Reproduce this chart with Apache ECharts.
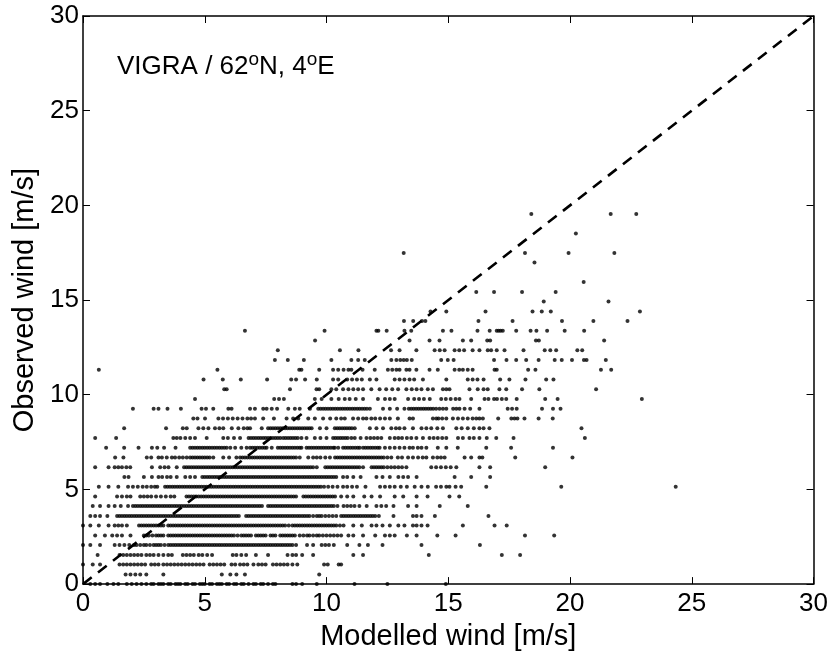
<!DOCTYPE html>
<html><head><meta charset="utf-8">
<script src="https://cdn.jsdelivr.net/npm/echarts@6/dist/echarts.min.js"></script>
<style>html,body{margin:0;padding:0;background:#fff}#c{width:831px;height:656px}</style>
</head><body><div id="c"></div>
<script>
// Observed wind levels (m/s), quantised in the record
const obsLevels = [0.00, 0.51, 1.03, 1.54, 2.06, 2.57, 3.09, 3.60, 4.12, 4.63, 5.14, 5.66, 6.17, 6.69, 7.20, 7.72, 8.23, 8.75, 9.26, 9.77, 10.29, 10.80, 11.32, 11.83, 12.35, 12.86, 13.38, 13.89, 14.40, 14.92, 15.43, 15.95, 16.98, 17.49, 18.52, 19.55];

// Modelled wind values (m/s) read along each observed level
const r000 = [0.3, 0.5, 0.7, 1.0, 1.25, 1.45, 1.8, 2.0, 2.2, 2.4, 2.6, 2.8, 2.9, 3.1, 3.2, 3.3, 3.5, 3.6, 3.8, 3.9, 4.0, 4.2, 4.3, 4.5, 4.6, 4.8, 4.9, 5.0, 5.2, 5.3, 5.5, 5.6, 5.7, 5.9, 6.0, 6.2, 6.3, 6.5, 6.6, 6.8, 7.0, 7.1, 7.3, 7.4, 7.6, 7.8, 7.9, 8.6, 8.75, 9.0, 9.6, 11.15, 12.5, 14.9];
const r051 = [1.75, 1.95, 2.15, 2.35, 2.6, 3.3, 5.7, 6.05, 6.3, 6.65, 9.7];
const r103 = [0.0, 0.4, 0.7, 1.5, 1.65, 1.8, 1.95, 2.1, 2.25, 2.4, 2.55, 2.8, 2.95, 3.1, 3.3, 3.45, 3.6, 3.75, 3.9, 4.05, 4.2, 4.35, 4.5, 4.65, 4.8, 4.95, 5.2, 5.35, 5.5, 5.65, 5.8, 6.1, 6.25, 6.45, 6.6, 6.75, 7.0, 7.2, 7.35, 7.5, 7.8, 7.95, 8.1, 8.25, 8.4, 8.6, 8.8, 9.9, 10.05, 10.5, 10.6];
const r154 = [0.6, 1.5, 1.65, 1.8, 1.95, 2.1, 2.25, 2.4, 2.6, 2.75, 2.9, 3.1, 3.3, 3.5, 3.65, 4.1, 4.25, 4.4, 4.55, 4.75, 4.9, 5.1, 5.3, 6.15, 6.3, 6.5, 6.7, 7.1, 7.6, 8.4, 8.6, 8.75, 9.0, 9.45, 11.1, 11.5, 14.2, 17.2, 17.95];
const r206 = [0.0, 0.3, 0.7, 1.3, 1.5, 1.7, 1.9, 2.1, 2.2, 2.35, 2.5, 2.6, 2.75, 2.9, 3.0, 3.1, 3.2, 3.35, 3.5, 3.6, 3.7, 3.8, 3.9, 4.0, 4.1, 4.2, 4.3, 4.4, 4.5, 4.6, 4.7, 4.8, 4.9, 5.0, 5.1, 5.2, 5.3, 5.4, 5.5, 5.6, 5.7, 5.8, 5.9, 6.0, 6.1, 6.2, 6.3, 6.4, 6.5, 6.6, 6.7, 6.8, 6.9, 7.0, 7.1, 7.2, 7.3, 7.4, 7.5, 7.6, 7.7, 7.8, 7.9, 8.0, 8.1, 8.2, 8.3, 8.4, 8.5, 8.6, 8.75, 9.2, 9.45, 9.8, 9.95, 10.1, 10.3, 10.85, 11.35, 11.7, 12.3, 13.9, 16.3];
const r257 = [0.5, 0.9, 1.2, 1.4, 1.6, 1.95, 2.5, 2.6, 2.7, 2.85, 3.0, 3.1, 3.2, 3.3, 3.5, 3.6, 3.7, 3.8, 3.9, 4.0, 4.1, 4.2, 4.3, 4.4, 4.5, 4.6, 4.7, 4.8, 4.9, 5.0, 5.1, 5.2, 5.3, 5.4, 5.5, 5.6, 5.7, 5.8, 5.9, 6.0, 6.1, 6.2, 6.35, 6.5, 6.6, 6.7, 6.8, 6.9, 7.1, 7.2, 7.3, 7.4, 7.5, 7.7, 7.8, 7.9, 8.1, 8.2, 8.3, 8.4, 8.5, 8.6, 8.7, 8.9, 9.05, 9.2, 9.3, 9.45, 9.6, 9.7, 9.85, 10.0, 10.15, 10.3, 10.45, 10.6, 10.9, 11.1, 11.5, 12.0, 12.4, 12.6, 12.8, 13.3, 13.7, 14.55, 15.3, 18.15, 19.35];
const r309 = [0.0, 0.3, 0.65, 1.05, 1.3, 1.45, 1.6, 1.8, 2.3, 2.4, 2.5, 2.6, 2.7, 2.8, 2.9, 3.0, 3.1, 3.2, 3.3, 3.5, 3.6, 3.7, 3.8, 3.9, 4.0, 4.1, 4.2, 4.3, 4.4, 4.5, 4.6, 4.7, 4.8, 4.9, 5.0, 5.1, 5.2, 5.3, 5.4, 5.5, 5.6, 5.7, 5.8, 5.9, 6.0, 6.1, 6.2, 6.3, 6.4, 6.5, 6.6, 6.7, 6.8, 6.9, 7.0, 7.1, 7.2, 7.3, 7.4, 7.5, 7.6, 7.7, 7.8, 7.9, 8.0, 8.1, 8.2, 8.3, 8.45, 8.6, 8.7, 8.8, 8.9, 9.0, 9.1, 9.2, 9.3, 9.4, 9.5, 9.6, 9.7, 9.8, 9.9, 10.0, 10.1, 10.2, 10.3, 10.4, 10.55, 10.7, 11.1, 11.45, 11.85, 12.05, 12.3, 12.6, 12.95, 13.2, 13.55, 13.7, 13.9, 14.15, 15.6, 16.9, 17.4];
const r360 = [0.3, 0.5, 0.7, 1.0, 1.4, 1.5, 1.6, 1.7, 1.8, 1.9, 2.0, 2.1, 2.2, 2.3, 2.4, 2.5, 2.6, 2.7, 2.8, 2.9, 3.0, 3.1, 3.2, 3.3, 3.4, 3.5, 3.6, 3.7, 3.8, 3.9, 4.0, 4.1, 4.2, 4.3, 4.4, 4.5, 4.6, 4.7, 4.8, 4.9, 5.0, 5.1, 5.2, 5.3, 5.4, 5.5, 5.6, 5.7, 5.8, 5.9, 6.0, 6.1, 6.2, 6.3, 6.4, 6.7, 6.8, 6.9, 7.0, 7.1, 7.2, 7.3, 7.4, 7.5, 7.6, 7.7, 7.8, 7.9, 8.0, 8.1, 8.2, 8.3, 8.4, 8.5, 8.6, 8.7, 8.8, 8.9, 9.0, 9.1, 9.2, 9.3, 9.45, 9.6, 9.7, 9.8, 9.95, 10.1, 10.25, 10.4, 10.6, 10.7, 10.8, 10.9, 11.0, 11.1, 11.2, 11.3, 11.4, 11.5, 11.6, 11.7, 11.8, 11.9, 12.0, 12.15, 12.75, 13.55, 13.7, 13.9, 14.45, 16.65];
const r412 = [0.4, 0.7, 1.05, 1.3, 1.55, 1.85, 2.05, 2.15, 2.25, 2.35, 2.45, 2.55, 2.65, 2.75, 2.85, 2.95, 3.05, 3.15, 3.25, 3.35, 3.45, 3.55, 3.65, 3.75, 3.85, 3.95, 4.05, 4.15, 4.25, 4.35, 4.45, 4.55, 4.65, 4.75, 4.85, 4.95, 5.05, 5.15, 5.25, 5.35, 5.45, 5.55, 5.65, 5.75, 5.85, 5.95, 6.05, 6.15, 6.25, 6.35, 6.45, 6.55, 6.65, 6.75, 6.85, 6.95, 7.05, 7.15, 7.25, 7.35, 7.6, 7.7, 7.8, 7.9, 8.0, 8.1, 8.2, 8.3, 8.4, 8.5, 8.6, 8.7, 8.8, 8.9, 9.0, 9.1, 9.2, 9.3, 9.4, 9.5, 9.6, 9.7, 9.8, 9.9, 10.0, 10.1, 10.2, 10.3, 10.45, 10.7, 10.85, 11.0, 11.15, 11.35, 11.65, 12.05, 12.25, 12.45, 12.75, 13.35, 13.7, 14.65, 15.8];
const r463 = [0.5, 1.4, 1.6, 1.8, 1.95, 2.35, 2.5, 2.65, 2.8, 3.0, 3.2, 3.4, 3.6, 3.75, 4.25, 4.35, 4.45, 4.55, 4.65, 4.75, 4.85, 4.95, 5.05, 5.15, 5.25, 5.35, 5.45, 5.55, 5.65, 5.75, 5.85, 5.95, 6.05, 6.15, 6.25, 6.35, 6.45, 6.55, 6.65, 6.75, 6.85, 6.95, 7.05, 7.15, 7.25, 7.35, 7.45, 7.55, 7.65, 7.75, 7.85, 7.95, 8.05, 8.15, 8.25, 8.35, 8.45, 8.55, 8.65, 8.75, 9.05, 9.15, 9.25, 9.35, 9.45, 9.55, 9.65, 9.75, 9.85, 9.95, 10.05, 10.15, 10.25, 10.35, 10.6, 10.85, 11.1, 11.55, 11.85, 12.2, 12.8, 13.15, 13.7, 14.15, 15.05, 15.45];
const r514 = [0.65, 1.05, 1.45, 1.85, 2.05, 2.25, 2.45, 2.62, 2.8, 2.95, 3.05, 3.37, 3.47, 3.57, 3.67, 3.77, 3.87, 3.97, 4.07, 4.17, 4.27, 4.37, 4.47, 4.57, 4.67, 4.77, 4.87, 4.97, 5.07, 5.17, 5.27, 5.37, 5.47, 5.57, 5.67, 5.77, 5.87, 5.97, 6.07, 6.17, 6.27, 6.37, 6.47, 6.57, 6.67, 6.77, 6.87, 6.97, 7.07, 7.17, 7.27, 7.37, 7.47, 7.57, 7.67, 7.77, 7.87, 7.97, 8.07, 8.17, 8.27, 8.37, 8.47, 8.57, 8.67, 8.77, 8.87, 8.97, 9.07, 9.17, 9.27, 9.37, 9.47, 9.57, 9.67, 9.77, 9.9, 10.07, 10.25, 10.45, 10.68, 10.85, 11.05, 11.25, 11.6, 12.2, 12.4, 12.6, 12.8, 13.05, 13.3, 13.62, 13.9, 14.16, 14.5, 14.7, 14.92, 15.05, 15.3, 15.53, 16.56, 19.64, 24.34];
const r566 = [1.7, 1.87, 2.5, 2.83, 3.1, 3.25, 3.45, 3.6, 3.85, 4.2, 4.4, 4.6, 4.9, 5.0, 5.1, 5.2, 5.3, 5.4, 5.5, 5.6, 5.7, 5.8, 5.9, 6.0, 6.1, 6.2, 6.3, 6.4, 6.5, 6.6, 6.7, 6.8, 6.9, 7.0, 7.1, 7.2, 7.3, 7.4, 7.5, 7.6, 7.7, 7.8, 7.9, 8.0, 8.1, 8.2, 8.3, 8.4, 8.5, 8.6, 8.7, 8.8, 8.9, 9.0, 9.1, 9.2, 9.3, 9.4, 9.5, 9.6, 9.7, 9.8, 9.9, 10.0, 10.1, 10.2, 10.3, 10.4, 10.68, 10.85, 11.1, 11.4, 12.05, 12.3, 12.6, 12.95, 13.15, 13.35, 13.7, 15.26, 15.94, 16.72];
const r617 = [0.5, 1.05, 1.3, 1.45, 1.6, 1.78, 1.94, 2.83, 3.17, 3.35, 3.51, 3.85, 4.15, 4.25, 4.35, 4.45, 4.55, 4.65, 4.75, 4.85, 4.95, 5.05, 5.15, 5.25, 5.35, 5.45, 5.55, 5.65, 5.75, 5.85, 5.95, 6.05, 6.15, 6.25, 6.35, 6.45, 6.55, 6.65, 6.75, 6.85, 6.95, 7.05, 7.15, 7.25, 7.35, 7.45, 7.55, 7.65, 7.75, 7.85, 7.95, 8.05, 8.15, 8.25, 8.35, 8.45, 8.55, 8.65, 8.75, 8.85, 8.95, 9.05, 9.15, 9.25, 9.35, 9.45, 9.6, 9.95, 10.05, 10.15, 10.25, 10.35, 10.45, 10.55, 10.65, 10.75, 10.85, 10.95, 11.05, 11.15, 11.25, 11.35, 11.5, 11.85, 11.95, 12.05, 12.15, 12.25, 12.35, 12.5, 12.65, 12.8, 12.95, 13.1, 13.28, 14.3, 14.5, 14.7, 14.9, 15.1, 15.33, 16.28, 16.72, 18.98];
const r669 = [1.32, 1.66, 2.62, 2.8, 3.1, 3.24, 3.44, 3.65, 3.78, 3.95, 4.1, 4.26, 4.4, 4.5, 4.6, 4.7, 4.8, 4.9, 5.0, 5.1, 5.2, 5.35, 5.76, 6.0, 6.3, 6.45, 6.55, 6.65, 6.75, 6.85, 6.95, 7.05, 7.15, 7.25, 7.35, 7.45, 7.55, 7.65, 7.75, 7.85, 7.95, 8.05, 8.15, 8.25, 8.35, 8.45, 8.55, 8.65, 8.75, 8.9, 9.25, 9.45, 9.6, 9.75, 9.95, 10.14, 10.35, 10.45, 10.55, 10.65, 10.75, 10.85, 10.95, 11.05, 11.15, 11.25, 11.35, 11.45, 11.55, 11.65, 11.75, 11.85, 11.95, 12.05, 12.15, 12.25, 12.35, 12.5, 12.66, 12.93, 13.1, 13.35, 13.55, 13.76, 13.95, 14.1, 14.37, 14.55, 14.7, 14.85, 15.67, 15.94, 16.28, 16.4, 17.75, 20.1];
const r720 = [0.95, 1.69, 2.28, 2.83, 3.05, 3.33, 3.8, 4.4, 4.5, 4.6, 4.7, 4.8, 4.9, 5.0, 5.1, 5.2, 5.3, 5.4, 5.5, 5.6, 5.7, 5.8, 5.9, 6.05, 6.25, 6.5, 6.72, 6.86, 6.96, 7.06, 7.16, 7.26, 7.36, 7.46, 7.54, 7.75, 8.0, 8.1, 8.2, 8.3, 8.4, 8.5, 8.6, 8.7, 8.8, 8.9, 8.97, 9.18, 9.28, 9.38, 9.48, 9.58, 9.68, 9.78, 9.88, 9.98, 10.08, 10.18, 10.28, 10.34, 10.48, 10.68, 10.78, 10.88, 10.98, 11.08, 11.18, 11.28, 11.36, 11.5, 11.6, 11.7, 11.8, 11.9, 12.0, 12.1, 12.18, 12.4, 12.6, 12.8, 13.0, 13.2, 13.41, 13.55, 13.75, 13.9, 14.1, 14.57, 14.92, 15.39, 16.56, 17.58, 19.3];
const r772 = [0.5, 1.36, 3.71, 3.85, 4.0, 4.2, 4.4, 4.6, 5.08, 5.76, 5.95, 6.2, 6.45, 6.8, 6.9, 7.0, 7.1, 7.2, 7.3, 7.4, 7.5, 7.6, 7.7, 7.8, 7.9, 8.0, 8.1, 8.22, 8.32, 8.42, 8.52, 8.62, 8.72, 8.82, 8.97, 9.18, 9.52, 9.75, 10.0, 10.27, 10.37, 10.47, 10.57, 10.67, 10.77, 10.87, 11.02, 11.16, 11.4, 11.64, 11.8, 11.95, 12.1, 12.25, 12.6, 12.8, 12.95, 13.1, 13.3, 13.48, 13.69, 13.96, 14.23, 14.4, 14.57, 14.75, 14.92, 15.4, 15.6, 15.87, 16.05, 16.28, 16.58, 16.97, 17.68, 20.61];
const r823 = [1.69, 3.41, 4.1, 4.26, 4.74, 4.94, 5.15, 5.42, 5.6, 5.76, 6.11, 6.38, 6.6, 6.75, 6.86, 7.34, 7.6, 7.7, 7.8, 7.9, 8.0, 8.1, 8.2, 8.3, 8.4, 8.5, 8.6, 8.7, 8.8, 8.9, 9.0, 9.1, 9.2, 9.3, 9.39, 9.73, 10.0, 10.34, 10.44, 10.54, 10.64, 10.74, 10.84, 10.94, 11.04, 11.16, 11.78, 12.05, 12.32, 12.66, 12.85, 13.0, 13.2, 13.55, 13.9, 14.1, 14.3, 14.55, 14.78, 15.33, 15.55, 15.8, 16.05, 16.28, 16.45, 16.69, 20.47];
const r875 = [4.53, 4.7, 5.01, 5.56, 5.75, 5.95, 6.15, 6.35, 6.55, 6.75, 6.9, 7.06, 7.4, 7.84, 8.36, 8.63, 8.84, 9.25, 9.52, 9.86, 10.15, 10.4, 10.6, 10.75, 11.09, 11.3, 11.5, 11.64, 11.84, 12.0, 12.2, 12.4, 12.6, 12.93, 13.41, 13.55, 14.37, 14.51, 14.6, 14.75, 14.92, 15.19, 15.4, 15.6, 15.8, 16.0, 16.15, 16.28, 16.42, 17.05, 17.59, 17.72, 17.84, 18.13, 18.71, 19.29];
const r926 = [2.05, 2.9, 3.1, 3.47, 4.02, 4.87, 5.05, 5.35, 5.97, 6.1, 6.86, 7.06, 7.4, 7.54, 7.75, 7.97, 8.43, 8.7, 8.9, 9.32, 9.66, 9.76, 9.86, 9.96, 10.06, 10.16, 10.26, 10.36, 10.46, 10.56, 10.66, 10.76, 10.86, 10.96, 11.06, 11.16, 11.26, 11.36, 11.46, 11.56, 11.66, 11.78, 12.32, 12.6, 12.9, 13.2, 13.38, 13.48, 13.58, 13.68, 13.78, 13.88, 13.98, 14.08, 14.18, 14.28, 14.38, 14.5, 14.64, 14.78, 14.92, 15.2, 15.33, 15.46, 15.67, 15.9, 16.28, 17.44, 17.62, 17.81, 18.85, 19.3, 19.61];
const r977 = [4.6, 7.85, 8.05, 8.25, 9.52, 9.8, 10.2, 10.5, 10.75, 10.95, 11.2, 11.5, 12.11, 12.4, 12.6, 12.8, 13.35, 13.6, 13.8, 14.0, 14.24, 14.71, 14.9, 15.1, 15.3, 15.46, 15.94, 16.49, 16.65, 16.88, 17.0, 17.2, 17.38, 17.81, 18.98, 19.49, 22.95];
const r1029 = [5.8, 5.9, 8.5, 9.59, 9.7, 10.2, 10.4, 10.68, 10.9, 11.1, 11.3, 11.5, 11.84, 12.18, 12.45, 12.7, 12.94, 13.28, 13.5, 13.7, 13.9, 14.16, 14.37, 14.78, 14.92, 15.05, 15.87, 16.21, 16.45, 16.62, 17.1, 17.38, 18.03, 18.74, 21.07];
const r1080 = [4.95, 5.74, 6.48, 7.56, 8.55, 8.75, 9.12, 9.6, 10.27, 10.48, 10.85, 11.05, 11.25, 11.45, 11.78, 12.05, 12.8, 13.0, 13.2, 13.41, 13.6, 13.96, 14.92, 15.8, 16.0, 16.2, 16.45, 17.13, 17.51, 18.17, 19.02, 19.32];
const r1132 = [0.65, 5.52, 8.88, 8.97, 9.7, 10.27, 10.48, 10.7, 10.9, 11.02, 11.48, 11.98, 12.52, 12.7, 12.87, 13.0, 13.28, 13.41, 13.69, 14.23, 14.57, 15.26, 15.45, 15.6, 15.8, 16.0, 16.9, 16.99, 18.28, 18.58, 21.27, 21.69];
const r1183 = [7.88, 8.41, 9.07, 10.2, 11.02, 11.3, 11.57, 12.66, 12.87, 13.03, 13.17, 13.3, 13.5, 14.71, 14.98, 15.22, 16.88, 17.39, 17.79, 18.2, 18.71, 19.37, 19.66, 20.08, 20.57, 20.68, 21.47];
const r1235 = [8.0, 10.55, 11.31, 12.65, 13.0, 13.69, 14.44, 14.65, 14.85, 15.26, 15.45, 15.65, 16.0, 16.28, 16.62, 16.76, 16.99, 17.31, 18.09, 18.96, 19.19, 19.43, 20.3, 20.5];
const r1286 = [9.53, 13.41, 14.23, 14.64, 15.6, 15.94, 16.6, 16.72, 18.6, 18.72, 21.4];
const r1338 = [6.65, 9.92, 12.05, 12.13, 12.47, 13.2, 13.48, 14.78, 15.13, 16.2, 16.7, 16.99, 17.07, 17.15, 17.24, 17.79, 18.38, 18.62, 19.06, 19.78, 20.58];
const r1389 = [13.18, 13.56, 13.92, 14.06, 16.24, 17.64, 19.67, 20.96, 22.36];
const r1440 = [14.27, 14.92, 16.53, 18.46, 18.84, 19.21, 22.87];
const r1492 = [18.92, 21.58];
const r1543 = [16.15, 16.88, 18.03, 19.41];
const r1595 = [20.56];
const r1698 = [18.54];
const r1749 = [13.17, 18.15, 19.94, 21.82];
const r1852 = [20.24];
const r1955 = [18.41, 21.67, 22.72];

const modelRows = [r000, r051, r103, r154, r206, r257, r309, r360, r412, r463, r514, r566, r617, r669, r720, r772, r823, r875, r926, r977, r1029, r1080, r1132, r1183, r1235, r1286, r1338, r1389, r1440, r1492, r1543, r1595, r1698, r1749, r1852, r1955];

// 1:1 reference line
const diagLine = [0, 30];
const tickLabels = ['0', '5', '10', '15', '20', '25', '30'];

const points = [];
modelRows.forEach((row, i) => row.forEach(x => points.push([x, obsLevels[i]])));

const FONT = 'Liberation Sans, Arial, Helvetica, sans-serif';
const chart = echarts.init(document.getElementById('c'), null, {renderer: 'canvas'});

function axisBase(pos, showLabel) {
  return {
    type: 'value', min: 0, max: 30, interval: 5, position: pos,
    axisLine: {show: true, onZero: false, lineStyle: {color: '#000', width: 1.5}},
    axisTick: {show: true, inside: true, length: 7, lineStyle: {color: '#000', width: 1}},
    splitLine: {show: false},
    axisLabel: {show: showLabel, color: '#000', fontSize: 26, fontFamily: FONT,
      formatter: v => tickLabels[Math.round(v / 5)]}
  };
}

const xMain = Object.assign(axisBase('bottom', true), {
  name: 'Modelled wind [m/s]', nameLocation: 'middle', nameGap: 27,
  nameTextStyle: {color: '#000', fontSize: 29, fontFamily: FONT}
});
xMain.axisLabel.margin = 7;
const yMain = Object.assign(axisBase('left', true), {
  name: 'Observed wind [m/s]', nameLocation: 'middle', nameGap: 40,
  nameTextStyle: {color: '#000', fontSize: 29, fontFamily: FONT}
});
yMain.axisLabel.margin = 4;

chart.setOption({
  animation: false,
  backgroundColor: '#fff',
  grid: {left: 83, right: 16, top: 16, bottom: 64, containLabel: false},
  xAxis: [xMain, axisBase('top', false)],
  yAxis: [yMain, axisBase('right', false)],
  graphic: [{
    type: 'text', left: 117, top: 50, silent: true,
    style: {
      text: '{n|VIGRA / 62}{s|o}{n|N, 4}{s|o}{n|E}',
      fill: '#000',
      rich: {
        n: {fontSize: 26, fontFamily: FONT, fill: '#000', lineHeight: 30, verticalAlign: 'bottom'},
        s: {fontSize: 19, fontFamily: FONT, fill: '#000', lineHeight: 19, verticalAlign: 'top'}
      }
    }
  }],
  series: [
    {
      type: 'scatter', xAxisIndex: 0, yAxisIndex: 0, data: points,
      symbol: 'circle', symbolSize: 4, clip: false,
      itemStyle: {color: '#000'}, silent: true
    },
    {
      type: 'line', xAxisIndex: 0, yAxisIndex: 0,
      data: [[diagLine[0], diagLine[0]], [diagLine[1], diagLine[1]]],
      symbol: 'none', silent: true, z: 3,
      lineStyle: {color: '#000', width: 2.6, type: [11, 8]}
    }
  ]
});
</script>
</body></html>
